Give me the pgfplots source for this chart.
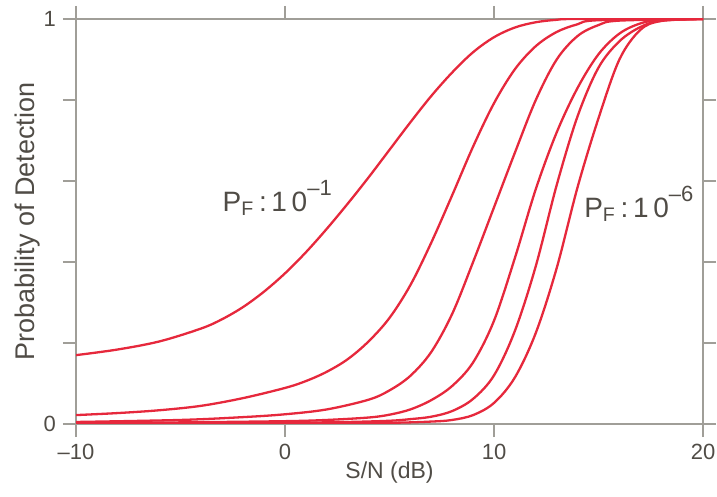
\documentclass[border=0pt]{standalone}
\usepackage{pgfplots}
\pgfplotsset{compat=1.18}
\usepackage{fontspec}
\setmainfont{Liberation Sans}
\definecolor{curvered}{RGB}{230,40,60}
\definecolor{axgray}{RGB}{160,158,152}
\definecolor{txtgray}{RGB}{80,76,70}
\pgfplotsset{pdcurve/.style={curvered, solid, line width=1.15pt, smooth, tension=0.55, mark=none}}

\newcommand{\pf}[1]{P\textsubscript{F}\,:\,1\,0\raisebox{1.1ex}{\fontsize{11}{13}\selectfont\textendash#1}}

\begin{document}
\begin{tikzpicture}
\begin{axis}[
  width=313.5pt, height=202.5pt, scale only axis,
  xmin=-10, xmax=20, ymin=0, ymax=1,
  xtick={-10,0,10,20},
  xticklabels={\textendash10,0,10,20},
  ytick={0,0.2,0.4,0.6,0.8,1},
  yticklabels={0,,,,,1},
  tick align=outside, major tick length=6.5pt,
  tick style={axgray, line width=0.6pt},
  axis line style={axgray, line width=0.8pt},
  ticklabel style={font=\fontsize{11}{13}\selectfont, text=txtgray},
  xlabel={S/N (dB)}, ylabel={Probability of Detection},
  xlabel style={font=\fontsize{11.5}{13}\selectfont, text=txtgray, yshift=6pt},
  ylabel style={font=\fontsize{13.5}{15}\selectfont, text=txtgray, yshift=-5pt},
  clip=true,
]
% P_F = 1e-1
\addplot[pdcurve] coordinates {(-10,0.170) (-8,0.184) (-6,0.204) (-4,0.236) (-3,0.259) (-2,0.289) (-1,0.327) (0,0.372) (1,0.424) (2,0.482) (3,0.544) (4,0.609) (5,0.677) (6,0.745) (7,0.810) (8,0.868) (9,0.918) (10,0.955) (11,0.979) (12,0.992) (13,0.998) (14,1) (20,1)};
% P_F = 1e-2
\addplot[pdcurve] coordinates {(-10,0.022) (-8,0.027) (-6,0.034) (-4,0.045) (-2,0.064) (0,0.089) (1,0.106) (2,0.129) (3,0.160) (4,0.204) (5,0.262) (6,0.343) (7,0.448) (8,0.565) (9,0.685) (10,0.792) (11,0.876) (12,0.933) (13,0.968) (14,0.987) (15,0.997) (20,1)};
% P_F = 1e-3
\addplot[pdcurve] coordinates {(-10,0.005) (-5,0.010) (-2,0.017) (0,0.024) (2,0.036) (4,0.060) (5,0.083) (6,0.119) (7,0.178) (8,0.272) (9,0.400) (10,0.535) (11,0.670) (12,0.800) (13,0.900) (14,0.958) (15,0.985) (16,0.996) (20,1)};
% P_F = 1e-4
\addplot[pdcurve] coordinates {(-10,0.002) (-5,0.004) (0,0.007) (2,0.010) (4,0.016) (5,0.023) (6,0.036) (7,0.059) (8,0.094) (9,0.152) (10,0.255) (11,0.410) (12,0.580) (13,0.720) (14,0.830) (15,0.913) (16,0.964) (17,0.989) (18,0.998) (20,1)};
% P_F = 1e-5
\addplot[pdcurve] coordinates {(-10,0.001) (-5,0.002) (0,0.003) (3,0.005) (5,0.008) (6,0.012) (7,0.018) (8,0.032) (9,0.062) (10,0.120) (11,0.230) (12,0.390) (13,0.590) (14,0.760) (15,0.880) (16,0.945) (17,0.980) (18,0.996) (20,1)};
% P_F = 1e-6
\addplot[pdcurve] coordinates {(-10,0.0) (-5,0.0005) (0,0.001) (5,0.003) (7,0.006) (8,0.010) (9,0.022) (10,0.052) (11,0.115) (12,0.225) (13,0.385) (14,0.585) (15,0.755) (16,0.900) (17,0.973) (18,0.995) (20,1)};
\node[anchor=base west, text=txtgray, font=\fontsize{14}{16}\selectfont, inner sep=0pt] at (axis cs:-3.0,0.525) {\pf{1}};
\node[anchor=base west, text=txtgray, font=\fontsize{14}{16}\selectfont, inner sep=0pt] at (axis cs:14.3,0.51) {\pf{6}};
\end{axis}
\pgfresetboundingbox
\path[use as bounding box] ([xshift=-38pt,yshift=-36.5pt]current axis.south west) rectangle ([xshift=7pt,yshift=9.5pt]current axis.north east);
\end{tikzpicture}
\end{document}
